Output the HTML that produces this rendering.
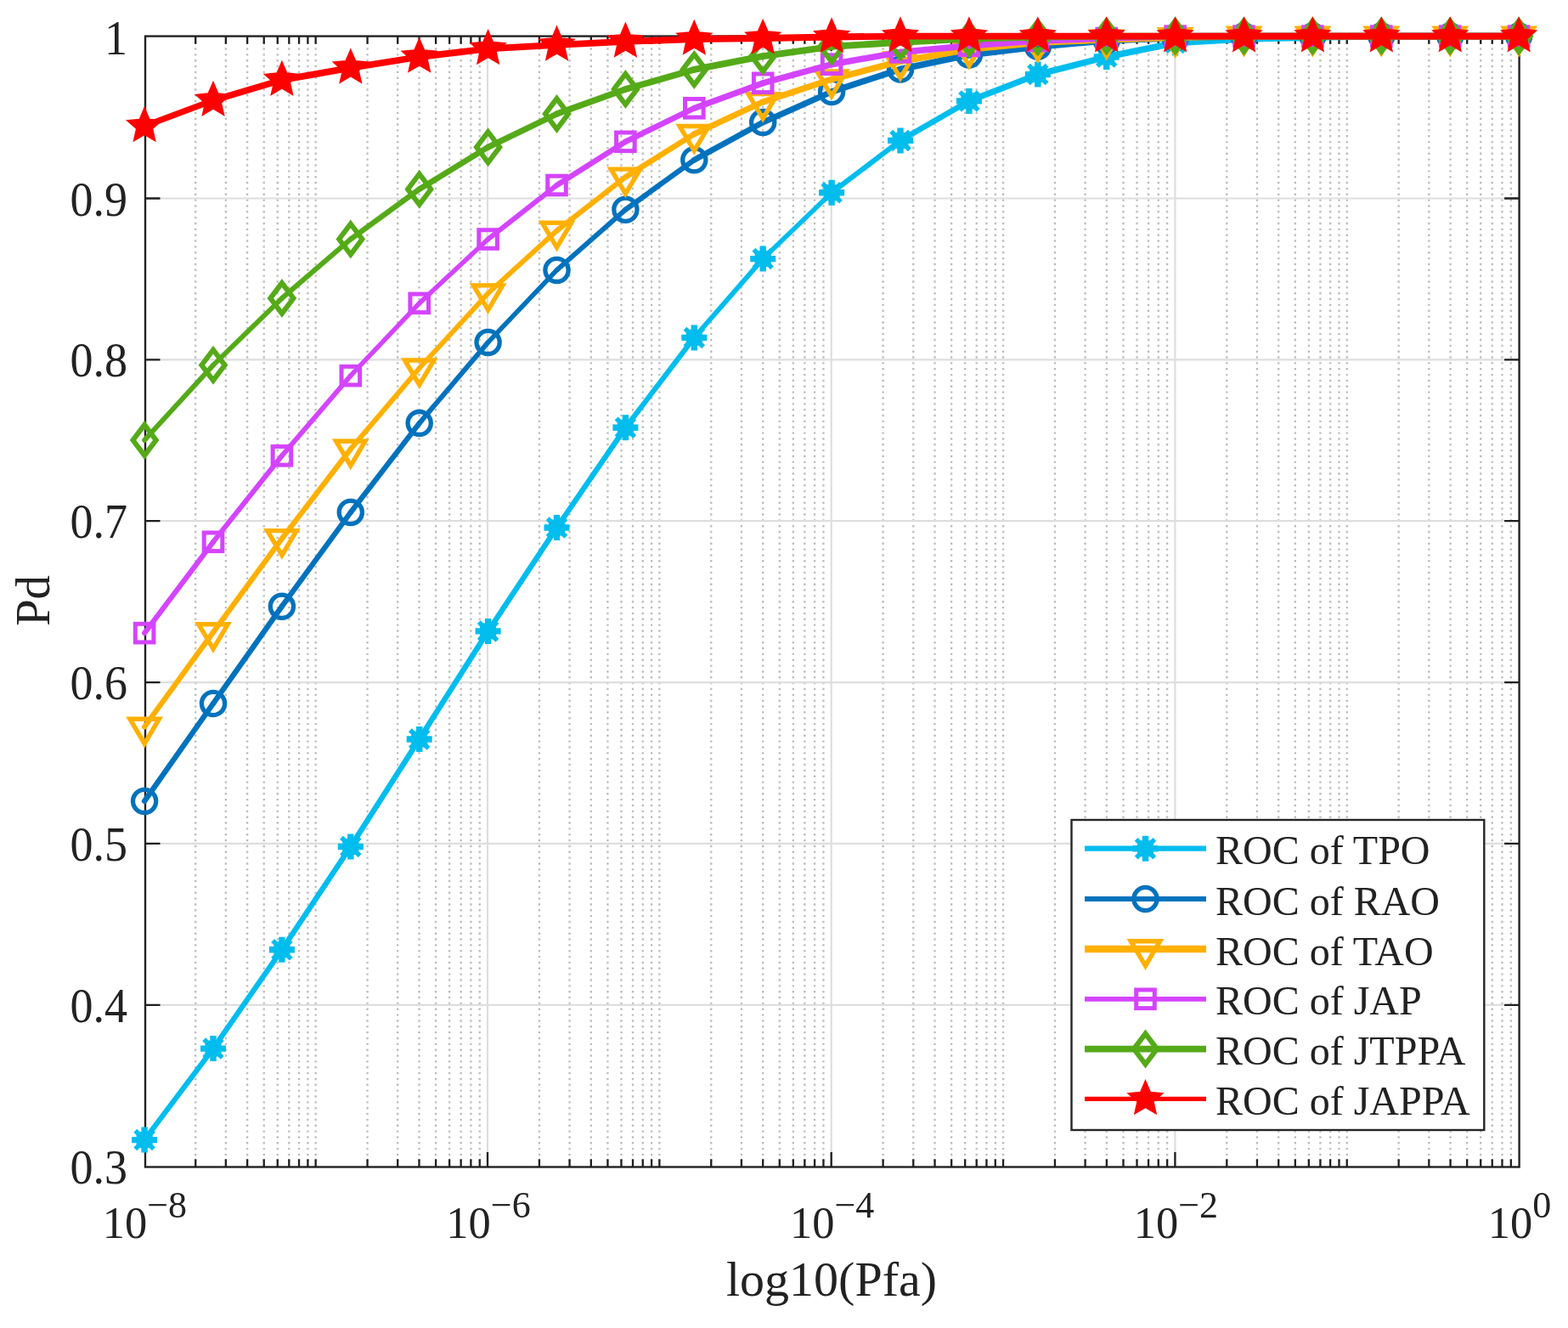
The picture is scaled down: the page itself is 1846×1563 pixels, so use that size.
<!DOCTYPE html>
<html><head><meta charset="utf-8"><title>ROC</title>
<style>
html,body{margin:0;padding:0;background:#fff;}
svg{display:block;}
text{font-family:"Liberation Serif","Times New Roman",serif;fill:#222;}
</style></head><body>
<svg width="1846" height="1563" viewBox="0 0 1846 1563">
<rect width="1846" height="1563" fill="#fff"/>
<g stroke="#bdbdbd" stroke-width="2.3" stroke-dasharray="2.4 4.45">
<line x1="230.21" y1="42.6" x2="230.21" y2="1373.5"/>
<line x1="265.85" y1="42.6" x2="265.85" y2="1373.5"/>
<line x1="291.13" y1="42.6" x2="291.13" y2="1373.5"/>
<line x1="310.74" y1="42.6" x2="310.74" y2="1373.5"/>
<line x1="326.76" y1="42.6" x2="326.76" y2="1373.5"/>
<line x1="340.31" y1="42.6" x2="340.31" y2="1373.5"/>
<line x1="352.04" y1="42.6" x2="352.04" y2="1373.5"/>
<line x1="362.39" y1="42.6" x2="362.39" y2="1373.5"/>
<line x1="432.56" y1="42.6" x2="432.56" y2="1373.5"/>
<line x1="468.2" y1="42.6" x2="468.2" y2="1373.5"/>
<line x1="493.48" y1="42.6" x2="493.48" y2="1373.5"/>
<line x1="513.09" y1="42.6" x2="513.09" y2="1373.5"/>
<line x1="529.11" y1="42.6" x2="529.11" y2="1373.5"/>
<line x1="542.66" y1="42.6" x2="542.66" y2="1373.5"/>
<line x1="554.39" y1="42.6" x2="554.39" y2="1373.5"/>
<line x1="564.74" y1="42.6" x2="564.74" y2="1373.5"/>
<line x1="634.91" y1="42.6" x2="634.91" y2="1373.5"/>
<line x1="670.55" y1="42.6" x2="670.55" y2="1373.5"/>
<line x1="695.83" y1="42.6" x2="695.83" y2="1373.5"/>
<line x1="715.44" y1="42.6" x2="715.44" y2="1373.5"/>
<line x1="731.46" y1="42.6" x2="731.46" y2="1373.5"/>
<line x1="745.01" y1="42.6" x2="745.01" y2="1373.5"/>
<line x1="756.74" y1="42.6" x2="756.74" y2="1373.5"/>
<line x1="767.09" y1="42.6" x2="767.09" y2="1373.5"/>
<line x1="837.26" y1="42.6" x2="837.26" y2="1373.5"/>
<line x1="872.9" y1="42.6" x2="872.9" y2="1373.5"/>
<line x1="898.18" y1="42.6" x2="898.18" y2="1373.5"/>
<line x1="917.79" y1="42.6" x2="917.79" y2="1373.5"/>
<line x1="933.81" y1="42.6" x2="933.81" y2="1373.5"/>
<line x1="947.36" y1="42.6" x2="947.36" y2="1373.5"/>
<line x1="959.09" y1="42.6" x2="959.09" y2="1373.5"/>
<line x1="969.44" y1="42.6" x2="969.44" y2="1373.5"/>
<line x1="1039.61" y1="42.6" x2="1039.61" y2="1373.5"/>
<line x1="1075.25" y1="42.6" x2="1075.25" y2="1373.5"/>
<line x1="1100.53" y1="42.6" x2="1100.53" y2="1373.5"/>
<line x1="1120.14" y1="42.6" x2="1120.14" y2="1373.5"/>
<line x1="1136.16" y1="42.6" x2="1136.16" y2="1373.5"/>
<line x1="1149.71" y1="42.6" x2="1149.71" y2="1373.5"/>
<line x1="1161.44" y1="42.6" x2="1161.44" y2="1373.5"/>
<line x1="1171.79" y1="42.6" x2="1171.79" y2="1373.5"/>
<line x1="1241.96" y1="42.6" x2="1241.96" y2="1373.5"/>
<line x1="1277.6" y1="42.6" x2="1277.6" y2="1373.5"/>
<line x1="1302.88" y1="42.6" x2="1302.88" y2="1373.5"/>
<line x1="1322.49" y1="42.6" x2="1322.49" y2="1373.5"/>
<line x1="1338.51" y1="42.6" x2="1338.51" y2="1373.5"/>
<line x1="1352.06" y1="42.6" x2="1352.06" y2="1373.5"/>
<line x1="1363.79" y1="42.6" x2="1363.79" y2="1373.5"/>
<line x1="1374.14" y1="42.6" x2="1374.14" y2="1373.5"/>
<line x1="1444.31" y1="42.6" x2="1444.31" y2="1373.5"/>
<line x1="1479.95" y1="42.6" x2="1479.95" y2="1373.5"/>
<line x1="1505.23" y1="42.6" x2="1505.23" y2="1373.5"/>
<line x1="1524.84" y1="42.6" x2="1524.84" y2="1373.5"/>
<line x1="1540.86" y1="42.6" x2="1540.86" y2="1373.5"/>
<line x1="1554.41" y1="42.6" x2="1554.41" y2="1373.5"/>
<line x1="1566.14" y1="42.6" x2="1566.14" y2="1373.5"/>
<line x1="1576.49" y1="42.6" x2="1576.49" y2="1373.5"/>
<line x1="1646.66" y1="42.6" x2="1646.66" y2="1373.5"/>
<line x1="1682.3" y1="42.6" x2="1682.3" y2="1373.5"/>
<line x1="1707.58" y1="42.6" x2="1707.58" y2="1373.5"/>
<line x1="1727.19" y1="42.6" x2="1727.19" y2="1373.5"/>
<line x1="1743.21" y1="42.6" x2="1743.21" y2="1373.5"/>
<line x1="1756.76" y1="42.6" x2="1756.76" y2="1373.5"/>
<line x1="1768.49" y1="42.6" x2="1768.49" y2="1373.5"/>
<line x1="1778.84" y1="42.6" x2="1778.84" y2="1373.5"/>
<line x1="371.65" y1="42.6" x2="371.65" y2="1373.5"/>
<line x1="776.35" y1="42.6" x2="776.35" y2="1373.5"/>
<line x1="1181.05" y1="42.6" x2="1181.05" y2="1373.5"/>
<line x1="1585.75" y1="42.6" x2="1585.75" y2="1373.5"/>
</g>
<g stroke="#dedede" stroke-width="2.2">
<line x1="574" y1="42.6" x2="574" y2="1373.5"/>
<line x1="978.7" y1="42.6" x2="978.7" y2="1373.5"/>
<line x1="1383.4" y1="42.6" x2="1383.4" y2="1373.5"/>
<line x1="171" y1="1182.8" x2="1788.6" y2="1182.8"/>
<line x1="171" y1="992.94" x2="1788.6" y2="992.94"/>
<line x1="171" y1="803.08" x2="1788.6" y2="803.08"/>
<line x1="171" y1="613.22" x2="1788.6" y2="613.22"/>
<line x1="171" y1="423.36" x2="1788.6" y2="423.36"/>
<line x1="171" y1="233.5" x2="1788.6" y2="233.5"/>
</g>
<path d="M230.21 1373.5v-9.2M230.21 42.6v9.2M265.85 1373.5v-9.2M265.85 42.6v9.2M291.13 1373.5v-9.2M291.13 42.6v9.2M310.74 1373.5v-9.2M310.74 42.6v9.2M326.76 1373.5v-9.2M326.76 42.6v9.2M340.31 1373.5v-9.2M340.31 42.6v9.2M352.04 1373.5v-9.2M352.04 42.6v9.2M362.39 1373.5v-9.2M362.39 42.6v9.2M432.56 1373.5v-9.2M432.56 42.6v9.2M468.2 1373.5v-9.2M468.2 42.6v9.2M493.48 1373.5v-9.2M493.48 42.6v9.2M513.09 1373.5v-9.2M513.09 42.6v9.2M529.11 1373.5v-9.2M529.11 42.6v9.2M542.66 1373.5v-9.2M542.66 42.6v9.2M554.39 1373.5v-9.2M554.39 42.6v9.2M564.74 1373.5v-9.2M564.74 42.6v9.2M634.91 1373.5v-9.2M634.91 42.6v9.2M670.55 1373.5v-9.2M670.55 42.6v9.2M695.83 1373.5v-9.2M695.83 42.6v9.2M715.44 1373.5v-9.2M715.44 42.6v9.2M731.46 1373.5v-9.2M731.46 42.6v9.2M745.01 1373.5v-9.2M745.01 42.6v9.2M756.74 1373.5v-9.2M756.74 42.6v9.2M767.09 1373.5v-9.2M767.09 42.6v9.2M837.26 1373.5v-9.2M837.26 42.6v9.2M872.9 1373.5v-9.2M872.9 42.6v9.2M898.18 1373.5v-9.2M898.18 42.6v9.2M917.79 1373.5v-9.2M917.79 42.6v9.2M933.81 1373.5v-9.2M933.81 42.6v9.2M947.36 1373.5v-9.2M947.36 42.6v9.2M959.09 1373.5v-9.2M959.09 42.6v9.2M969.44 1373.5v-9.2M969.44 42.6v9.2M1039.61 1373.5v-9.2M1039.61 42.6v9.2M1075.25 1373.5v-9.2M1075.25 42.6v9.2M1100.53 1373.5v-9.2M1100.53 42.6v9.2M1120.14 1373.5v-9.2M1120.14 42.6v9.2M1136.16 1373.5v-9.2M1136.16 42.6v9.2M1149.71 1373.5v-9.2M1149.71 42.6v9.2M1161.44 1373.5v-9.2M1161.44 42.6v9.2M1171.79 1373.5v-9.2M1171.79 42.6v9.2M1241.96 1373.5v-9.2M1241.96 42.6v9.2M1277.6 1373.5v-9.2M1277.6 42.6v9.2M1302.88 1373.5v-9.2M1302.88 42.6v9.2M1322.49 1373.5v-9.2M1322.49 42.6v9.2M1338.51 1373.5v-9.2M1338.51 42.6v9.2M1352.06 1373.5v-9.2M1352.06 42.6v9.2M1363.79 1373.5v-9.2M1363.79 42.6v9.2M1374.14 1373.5v-9.2M1374.14 42.6v9.2M1444.31 1373.5v-9.2M1444.31 42.6v9.2M1479.95 1373.5v-9.2M1479.95 42.6v9.2M1505.23 1373.5v-9.2M1505.23 42.6v9.2M1524.84 1373.5v-9.2M1524.84 42.6v9.2M1540.86 1373.5v-9.2M1540.86 42.6v9.2M1554.41 1373.5v-9.2M1554.41 42.6v9.2M1566.14 1373.5v-9.2M1566.14 42.6v9.2M1576.49 1373.5v-9.2M1576.49 42.6v9.2M1646.66 1373.5v-9.2M1646.66 42.6v9.2M1682.3 1373.5v-9.2M1682.3 42.6v9.2M1707.58 1373.5v-9.2M1707.58 42.6v9.2M1727.19 1373.5v-9.2M1727.19 42.6v9.2M1743.21 1373.5v-9.2M1743.21 42.6v9.2M1756.76 1373.5v-9.2M1756.76 42.6v9.2M1768.49 1373.5v-9.2M1768.49 42.6v9.2M1778.84 1373.5v-9.2M1778.84 42.6v9.2M371.65 1373.5v-9.2M371.65 42.6v9.2M776.35 1373.5v-9.2M776.35 42.6v9.2M1181.05 1373.5v-9.2M1181.05 42.6v9.2M1585.75 1373.5v-9.2M1585.75 42.6v9.2M574 1373.5v-17.5M574 42.6v17.5M978.7 1373.5v-17.5M978.7 42.6v17.5M1383.4 1373.5v-17.5M1383.4 42.6v17.5M171 1182.8h17.5M1788.6 1182.8h-17.5M171 992.94h17.5M1788.6 992.94h-17.5M171 803.08h17.5M1788.6 803.08h-17.5M171 613.22h17.5M1788.6 613.22h-17.5M171 423.36h17.5M1788.6 423.36h-17.5M171 233.5h17.5M1788.6 233.5h-17.5" stroke="#1f1f1f" stroke-width="2.3" fill="none"/>
<rect x="171" y="42.6" width="1617.6" height="1330.9" fill="none" stroke="#222" stroke-width="2.4"/>
<g stroke="#00BDEE" stroke-linecap="round">
<line x1="170.1" y1="1341.6" x2="251" y2="1234.1" stroke-width="6.15"/><line x1="251" y1="1234.1" x2="331.9" y2="1117.8" stroke-width="6.32"/><line x1="331.9" y1="1117.8" x2="412.8" y2="996.5" stroke-width="6.41"/><line x1="412.8" y1="996.5" x2="493.7" y2="870" stroke-width="6.49"/><line x1="493.7" y1="870" x2="574.6" y2="742.9" stroke-width="6.5"/><line x1="574.6" y1="742.9" x2="655.5" y2="621" stroke-width="6.42"/><line x1="655.5" y1="621" x2="736.4" y2="503.3" stroke-width="6.35"/><line x1="736.4" y1="503.3" x2="817.3" y2="397.4" stroke-width="6.12"/><line x1="817.3" y1="397.4" x2="898.2" y2="304.6" stroke-width="5.8"/><line x1="898.2" y1="304.6" x2="979.1" y2="226.8" stroke-width="5.55"/><line x1="979.1" y1="226.8" x2="1060" y2="165.4" stroke-width="6.13"/><line x1="1060" y1="165.4" x2="1140.9" y2="118.9" stroke-width="6.68"/><line x1="1140.9" y1="118.9" x2="1221.8" y2="87.6" stroke-width="7.18"/><line x1="1221.8" y1="87.6" x2="1302.7" y2="67" stroke-width="7.46"/><line x1="1302.7" y1="67" x2="1383.6" y2="50.5" stroke-width="7.54"/><line x1="1383.6" y1="50.5" x2="1464.5" y2="46" stroke-width="7.69"/><line x1="1464.5" y1="46" x2="1545.4" y2="44" stroke-width="7.7"/><line x1="1545.4" y1="44" x2="1626.3" y2="42.6" stroke-width="7.7"/><line x1="1626.3" y1="42.6" x2="1707.2" y2="42.6" stroke-width="7.7"/><line x1="1707.2" y1="42.6" x2="1788.1" y2="42.6" stroke-width="7.7"/>
</g>
<g>
<path d="M155.1 1341.6h30M170.1 1326.6v30" stroke="#00BDEE" stroke-width="7.4" fill="none"/><path d="M159.3 1330.8l21.6 21.6M159.3 1352.4l21.6 -21.6" stroke="#00BDEE" stroke-width="5.5" fill="none"/><rect x="160.6" y="1332.1" width="19" height="19" fill="#00BDEE"/>
<path d="M236 1234.1h30M251 1219.1v30" stroke="#00BDEE" stroke-width="7.4" fill="none"/><path d="M240.2 1223.3l21.6 21.6M240.2 1244.9l21.6 -21.6" stroke="#00BDEE" stroke-width="5.5" fill="none"/><rect x="241.5" y="1224.6" width="19" height="19" fill="#00BDEE"/>
<path d="M316.9 1117.8h30M331.9 1102.8v30" stroke="#00BDEE" stroke-width="7.4" fill="none"/><path d="M321.1 1107l21.6 21.6M321.1 1128.6l21.6 -21.6" stroke="#00BDEE" stroke-width="5.5" fill="none"/><rect x="322.4" y="1108.3" width="19" height="19" fill="#00BDEE"/>
<path d="M397.8 996.5h30M412.8 981.5v30" stroke="#00BDEE" stroke-width="7.4" fill="none"/><path d="M402 985.7l21.6 21.6M402 1007.3l21.6 -21.6" stroke="#00BDEE" stroke-width="5.5" fill="none"/><rect x="403.3" y="987" width="19" height="19" fill="#00BDEE"/>
<path d="M478.7 870h30M493.7 855v30" stroke="#00BDEE" stroke-width="7.4" fill="none"/><path d="M482.9 859.2l21.6 21.6M482.9 880.8l21.6 -21.6" stroke="#00BDEE" stroke-width="5.5" fill="none"/><rect x="484.2" y="860.5" width="19" height="19" fill="#00BDEE"/>
<path d="M559.6 742.9h30M574.6 727.9v30" stroke="#00BDEE" stroke-width="7.4" fill="none"/><path d="M563.8 732.1l21.6 21.6M563.8 753.7l21.6 -21.6" stroke="#00BDEE" stroke-width="5.5" fill="none"/><rect x="565.1" y="733.4" width="19" height="19" fill="#00BDEE"/>
<path d="M640.5 621h30M655.5 606v30" stroke="#00BDEE" stroke-width="7.4" fill="none"/><path d="M644.7 610.2l21.6 21.6M644.7 631.8l21.6 -21.6" stroke="#00BDEE" stroke-width="5.5" fill="none"/><rect x="646" y="611.5" width="19" height="19" fill="#00BDEE"/>
<path d="M721.4 503.3h30M736.4 488.3v30" stroke="#00BDEE" stroke-width="7.4" fill="none"/><path d="M725.6 492.5l21.6 21.6M725.6 514.1l21.6 -21.6" stroke="#00BDEE" stroke-width="5.5" fill="none"/><rect x="726.9" y="493.8" width="19" height="19" fill="#00BDEE"/>
<path d="M802.3 397.4h30M817.3 382.4v30" stroke="#00BDEE" stroke-width="7.4" fill="none"/><path d="M806.5 386.6l21.6 21.6M806.5 408.2l21.6 -21.6" stroke="#00BDEE" stroke-width="5.5" fill="none"/><rect x="807.8" y="387.9" width="19" height="19" fill="#00BDEE"/>
<path d="M883.2 304.6h30M898.2 289.6v30" stroke="#00BDEE" stroke-width="7.4" fill="none"/><path d="M887.4 293.8l21.6 21.6M887.4 315.4l21.6 -21.6" stroke="#00BDEE" stroke-width="5.5" fill="none"/><rect x="888.7" y="295.1" width="19" height="19" fill="#00BDEE"/>
<path d="M964.1 226.8h30M979.1 211.8v30" stroke="#00BDEE" stroke-width="7.4" fill="none"/><path d="M968.3 216l21.6 21.6M968.3 237.6l21.6 -21.6" stroke="#00BDEE" stroke-width="5.5" fill="none"/><rect x="969.6" y="217.3" width="19" height="19" fill="#00BDEE"/>
<path d="M1045 165.4h30M1060 150.4v30" stroke="#00BDEE" stroke-width="7.4" fill="none"/><path d="M1049.2 154.6l21.6 21.6M1049.2 176.2l21.6 -21.6" stroke="#00BDEE" stroke-width="5.5" fill="none"/><rect x="1050.5" y="155.9" width="19" height="19" fill="#00BDEE"/>
<path d="M1125.9 118.9h30M1140.9 103.9v30" stroke="#00BDEE" stroke-width="7.4" fill="none"/><path d="M1130.1 108.1l21.6 21.6M1130.1 129.7l21.6 -21.6" stroke="#00BDEE" stroke-width="5.5" fill="none"/><rect x="1131.4" y="109.4" width="19" height="19" fill="#00BDEE"/>
<path d="M1206.8 87.6h30M1221.8 72.6v30" stroke="#00BDEE" stroke-width="7.4" fill="none"/><path d="M1211 76.8l21.6 21.6M1211 98.4l21.6 -21.6" stroke="#00BDEE" stroke-width="5.5" fill="none"/><rect x="1212.3" y="78.1" width="19" height="19" fill="#00BDEE"/>
<path d="M1287.7 67h30M1302.7 52v30" stroke="#00BDEE" stroke-width="7.4" fill="none"/><path d="M1291.9 56.2l21.6 21.6M1291.9 77.8l21.6 -21.6" stroke="#00BDEE" stroke-width="5.5" fill="none"/><rect x="1293.2" y="57.5" width="19" height="19" fill="#00BDEE"/>
<path d="M1368.6 50.5h30M1383.6 35.5v30" stroke="#00BDEE" stroke-width="7.4" fill="none"/><path d="M1372.8 39.7l21.6 21.6M1372.8 61.3l21.6 -21.6" stroke="#00BDEE" stroke-width="5.5" fill="none"/><rect x="1374.1" y="41" width="19" height="19" fill="#00BDEE"/>
<path d="M1449.5 46h30M1464.5 31v30" stroke="#00BDEE" stroke-width="7.4" fill="none"/><path d="M1453.7 35.2l21.6 21.6M1453.7 56.8l21.6 -21.6" stroke="#00BDEE" stroke-width="5.5" fill="none"/><rect x="1455" y="36.5" width="19" height="19" fill="#00BDEE"/>
<path d="M1530.4 44h30M1545.4 29v30" stroke="#00BDEE" stroke-width="7.4" fill="none"/><path d="M1534.6 33.2l21.6 21.6M1534.6 54.8l21.6 -21.6" stroke="#00BDEE" stroke-width="5.5" fill="none"/><rect x="1535.9" y="34.5" width="19" height="19" fill="#00BDEE"/>
<path d="M1611.3 42.6h30M1626.3 27.6v30" stroke="#00BDEE" stroke-width="7.4" fill="none"/><path d="M1615.5 31.8l21.6 21.6M1615.5 53.4l21.6 -21.6" stroke="#00BDEE" stroke-width="5.5" fill="none"/><rect x="1616.8" y="33.1" width="19" height="19" fill="#00BDEE"/>
<path d="M1692.2 42.6h30M1707.2 27.6v30" stroke="#00BDEE" stroke-width="7.4" fill="none"/><path d="M1696.4 31.8l21.6 21.6M1696.4 53.4l21.6 -21.6" stroke="#00BDEE" stroke-width="5.5" fill="none"/><rect x="1697.7" y="33.1" width="19" height="19" fill="#00BDEE"/>
<path d="M1773.1 42.6h30M1788.1 27.6v30" stroke="#00BDEE" stroke-width="7.4" fill="none"/><path d="M1777.3 31.8l21.6 21.6M1777.3 53.4l21.6 -21.6" stroke="#00BDEE" stroke-width="5.5" fill="none"/><rect x="1778.6" y="33.1" width="19" height="19" fill="#00BDEE"/>
</g>
<g stroke="#0072BD" stroke-linecap="round">
<line x1="170.1" y1="942.9" x2="251" y2="828" stroke-width="6.38"/><line x1="251" y1="828" x2="331.9" y2="713.7" stroke-width="6.37"/><line x1="331.9" y1="713.7" x2="412.8" y2="603" stroke-width="6.3"/><line x1="412.8" y1="603" x2="493.7" y2="498.1" stroke-width="6.18"/><line x1="493.7" y1="498.1" x2="574.6" y2="402.9" stroke-width="5.94"/><line x1="574.6" y1="402.9" x2="655.5" y2="317.9" stroke-width="5.65"/><line x1="655.5" y1="317.9" x2="736.4" y2="246.7" stroke-width="5.86"/><line x1="736.4" y1="246.7" x2="817.3" y2="188.3" stroke-width="6.32"/><line x1="817.3" y1="188.3" x2="898.2" y2="143.9" stroke-width="6.84"/><line x1="898.2" y1="143.9" x2="979.1" y2="108" stroke-width="7.13"/><line x1="979.1" y1="108" x2="1060" y2="81.4" stroke-width="7.41"/><line x1="1060" y1="81.4" x2="1140.9" y2="64.6" stroke-width="7.64"/><line x1="1140.9" y1="64.6" x2="1221.8" y2="54.8" stroke-width="7.74"/><line x1="1221.8" y1="54.8" x2="1302.7" y2="47.6" stroke-width="7.77"/><line x1="1302.7" y1="47.6" x2="1383.6" y2="44.5" stroke-width="7.79"/><line x1="1383.6" y1="44.5" x2="1464.5" y2="42.6" stroke-width="7.8"/><line x1="1464.5" y1="42.6" x2="1545.4" y2="42.6" stroke-width="7.8"/><line x1="1545.4" y1="42.6" x2="1626.3" y2="42.6" stroke-width="7.8"/><line x1="1626.3" y1="42.6" x2="1707.2" y2="42.6" stroke-width="7.8"/><line x1="1707.2" y1="42.6" x2="1788.1" y2="42.6" stroke-width="7.8"/>
</g>
<g>
<circle cx="170.1" cy="942.9" r="13.6" stroke="#0072BD" stroke-width="5.3" fill="none"/>
<circle cx="251" cy="828" r="13.6" stroke="#0072BD" stroke-width="5.3" fill="none"/>
<circle cx="331.9" cy="713.7" r="13.6" stroke="#0072BD" stroke-width="5.3" fill="none"/>
<circle cx="412.8" cy="603" r="13.6" stroke="#0072BD" stroke-width="5.3" fill="none"/>
<circle cx="493.7" cy="498.1" r="13.6" stroke="#0072BD" stroke-width="5.3" fill="none"/>
<circle cx="574.6" cy="402.9" r="13.6" stroke="#0072BD" stroke-width="5.3" fill="none"/>
<circle cx="655.5" cy="317.9" r="13.6" stroke="#0072BD" stroke-width="5.3" fill="none"/>
<circle cx="736.4" cy="246.7" r="13.6" stroke="#0072BD" stroke-width="5.3" fill="none"/>
<circle cx="817.3" cy="188.3" r="13.6" stroke="#0072BD" stroke-width="5.3" fill="none"/>
<circle cx="898.2" cy="143.9" r="13.6" stroke="#0072BD" stroke-width="5.3" fill="none"/>
<circle cx="979.1" cy="108" r="13.6" stroke="#0072BD" stroke-width="5.3" fill="none"/>
<circle cx="1060" cy="81.4" r="13.6" stroke="#0072BD" stroke-width="5.3" fill="none"/>
<circle cx="1140.9" cy="64.6" r="13.6" stroke="#0072BD" stroke-width="5.3" fill="none"/>
<circle cx="1221.8" cy="54.8" r="13.6" stroke="#0072BD" stroke-width="5.3" fill="none"/>
<circle cx="1302.7" cy="47.6" r="13.6" stroke="#0072BD" stroke-width="5.3" fill="none"/>
<circle cx="1383.6" cy="44.5" r="13.6" stroke="#0072BD" stroke-width="5.3" fill="none"/>
<circle cx="1464.5" cy="42.6" r="13.6" stroke="#0072BD" stroke-width="5.3" fill="none"/>
<circle cx="1545.4" cy="42.6" r="13.6" stroke="#0072BD" stroke-width="5.3" fill="none"/>
<circle cx="1626.3" cy="42.6" r="13.6" stroke="#0072BD" stroke-width="5.3" fill="none"/>
<circle cx="1707.2" cy="42.6" r="13.6" stroke="#0072BD" stroke-width="5.3" fill="none"/>
<circle cx="1788.1" cy="42.6" r="13.6" stroke="#0072BD" stroke-width="5.3" fill="none"/>
</g>
<g stroke="#FFB000" stroke-linecap="round">
<line x1="170.1" y1="855.5" x2="251" y2="744.1" stroke-width="6.31"/><line x1="251" y1="744.1" x2="331.9" y2="633.9" stroke-width="6.29"/><line x1="331.9" y1="633.9" x2="412.8" y2="528.5" stroke-width="6.19"/><line x1="412.8" y1="528.5" x2="493.7" y2="433.3" stroke-width="5.94"/><line x1="493.7" y1="433.3" x2="574.6" y2="345.2" stroke-width="5.75"/><line x1="574.6" y1="345.2" x2="655.5" y2="271.5" stroke-width="5.77"/><line x1="655.5" y1="271.5" x2="736.4" y2="208.4" stroke-width="6.15"/><line x1="736.4" y1="208.4" x2="817.3" y2="157.8" stroke-width="6.61"/><line x1="817.3" y1="157.8" x2="898.2" y2="119.9" stroke-width="7.06"/><line x1="898.2" y1="119.9" x2="979.1" y2="93.3" stroke-width="7.41"/><line x1="979.1" y1="93.3" x2="1060" y2="72.2" stroke-width="7.55"/><line x1="1060" y1="72.2" x2="1140.9" y2="57.9" stroke-width="7.68"/><line x1="1140.9" y1="57.9" x2="1221.8" y2="50.1" stroke-width="7.76"/><line x1="1221.8" y1="50.1" x2="1302.7" y2="46.6" stroke-width="7.79"/><line x1="1302.7" y1="46.6" x2="1383.6" y2="44" stroke-width="7.8"/><line x1="1383.6" y1="44" x2="1464.5" y2="42.6" stroke-width="7.8"/><line x1="1464.5" y1="42.6" x2="1545.4" y2="42.6" stroke-width="7.8"/><line x1="1545.4" y1="42.6" x2="1626.3" y2="42.6" stroke-width="7.8"/><line x1="1626.3" y1="42.6" x2="1707.2" y2="42.6" stroke-width="7.8"/><line x1="1707.2" y1="42.6" x2="1788.1" y2="42.6" stroke-width="7.8"/>
</g>
<g>
<path d="M152.9 846.2L187.3 846.2L170.1 875.1Z" stroke="#FFB000" stroke-width="5.4" fill="none" stroke-linejoin="miter" stroke-miterlimit="10"/>
<path d="M233.8 734.8L268.2 734.8L251 763.7Z" stroke="#FFB000" stroke-width="5.4" fill="none" stroke-linejoin="miter" stroke-miterlimit="10"/>
<path d="M314.7 624.6L349.1 624.6L331.9 653.5Z" stroke="#FFB000" stroke-width="5.4" fill="none" stroke-linejoin="miter" stroke-miterlimit="10"/>
<path d="M395.6 519.2L430 519.2L412.8 548.1Z" stroke="#FFB000" stroke-width="5.4" fill="none" stroke-linejoin="miter" stroke-miterlimit="10"/>
<path d="M476.5 424L510.9 424L493.7 452.9Z" stroke="#FFB000" stroke-width="5.4" fill="none" stroke-linejoin="miter" stroke-miterlimit="10"/>
<path d="M557.4 335.9L591.8 335.9L574.6 364.8Z" stroke="#FFB000" stroke-width="5.4" fill="none" stroke-linejoin="miter" stroke-miterlimit="10"/>
<path d="M638.3 262.2L672.7 262.2L655.5 291.1Z" stroke="#FFB000" stroke-width="5.4" fill="none" stroke-linejoin="miter" stroke-miterlimit="10"/>
<path d="M719.2 199.1L753.6 199.1L736.4 228Z" stroke="#FFB000" stroke-width="5.4" fill="none" stroke-linejoin="miter" stroke-miterlimit="10"/>
<path d="M800.1 148.5L834.5 148.5L817.3 177.4Z" stroke="#FFB000" stroke-width="5.4" fill="none" stroke-linejoin="miter" stroke-miterlimit="10"/>
<path d="M881 110.6L915.4 110.6L898.2 139.5Z" stroke="#FFB000" stroke-width="5.4" fill="none" stroke-linejoin="miter" stroke-miterlimit="10"/>
<path d="M961.9 84L996.3 84L979.1 112.9Z" stroke="#FFB000" stroke-width="5.4" fill="none" stroke-linejoin="miter" stroke-miterlimit="10"/>
<path d="M1042.8 62.9L1077.2 62.9L1060 91.8Z" stroke="#FFB000" stroke-width="5.4" fill="none" stroke-linejoin="miter" stroke-miterlimit="10"/>
<path d="M1123.7 48.6L1158.1 48.6L1140.9 77.5Z" stroke="#FFB000" stroke-width="5.4" fill="none" stroke-linejoin="miter" stroke-miterlimit="10"/>
<path d="M1204.6 40.8L1239 40.8L1221.8 69.7Z" stroke="#FFB000" stroke-width="5.4" fill="none" stroke-linejoin="miter" stroke-miterlimit="10"/>
<path d="M1285.5 37.3L1319.9 37.3L1302.7 66.2Z" stroke="#FFB000" stroke-width="5.4" fill="none" stroke-linejoin="miter" stroke-miterlimit="10"/>
<path d="M1366.4 34.7L1400.8 34.7L1383.6 63.6Z" stroke="#FFB000" stroke-width="5.4" fill="none" stroke-linejoin="miter" stroke-miterlimit="10"/>
<path d="M1447.3 33.3L1481.7 33.3L1464.5 62.2Z" stroke="#FFB000" stroke-width="5.4" fill="none" stroke-linejoin="miter" stroke-miterlimit="10"/>
<path d="M1528.2 33.3L1562.6 33.3L1545.4 62.2Z" stroke="#FFB000" stroke-width="5.4" fill="none" stroke-linejoin="miter" stroke-miterlimit="10"/>
<path d="M1609.1 33.3L1643.5 33.3L1626.3 62.2Z" stroke="#FFB000" stroke-width="5.4" fill="none" stroke-linejoin="miter" stroke-miterlimit="10"/>
<path d="M1690 33.3L1724.4 33.3L1707.2 62.2Z" stroke="#FFB000" stroke-width="5.4" fill="none" stroke-linejoin="miter" stroke-miterlimit="10"/>
<path d="M1770.9 33.3L1805.3 33.3L1788.1 62.2Z" stroke="#FFB000" stroke-width="5.4" fill="none" stroke-linejoin="miter" stroke-miterlimit="10"/>
</g>
<g stroke="#D444FF" stroke-linecap="round">
<line x1="170.1" y1="745.1" x2="251" y2="637.8" stroke-width="6.07"/><line x1="251" y1="637.8" x2="331.9" y2="536.4" stroke-width="5.94"/><line x1="331.9" y1="536.4" x2="412.8" y2="442.2" stroke-width="5.77"/><line x1="412.8" y1="442.2" x2="493.7" y2="356.9" stroke-width="5.51"/><line x1="493.7" y1="356.9" x2="574.6" y2="281.5" stroke-width="5.56"/><line x1="574.6" y1="281.5" x2="655.5" y2="218" stroke-width="5.98"/><line x1="655.5" y1="218" x2="736.4" y2="166.8" stroke-width="6.42"/><line x1="736.4" y1="166.8" x2="817.3" y2="127.3" stroke-width="6.83"/><line x1="817.3" y1="127.3" x2="898.2" y2="97.8" stroke-width="7.14"/><line x1="898.2" y1="97.8" x2="979.1" y2="75.7" stroke-width="7.33"/><line x1="979.1" y1="75.7" x2="1060" y2="61.4" stroke-width="7.48"/><line x1="1060" y1="61.4" x2="1140.9" y2="53.8" stroke-width="7.57"/><line x1="1140.9" y1="53.8" x2="1221.8" y2="48" stroke-width="7.58"/><line x1="1221.8" y1="48" x2="1302.7" y2="45" stroke-width="7.59"/><line x1="1302.7" y1="45" x2="1383.6" y2="42.6" stroke-width="7.6"/><line x1="1383.6" y1="42.6" x2="1464.5" y2="42.6" stroke-width="7.6"/><line x1="1464.5" y1="42.6" x2="1545.4" y2="42.6" stroke-width="7.6"/><line x1="1545.4" y1="42.6" x2="1626.3" y2="42.6" stroke-width="7.6"/><line x1="1626.3" y1="42.6" x2="1707.2" y2="42.6" stroke-width="7.6"/><line x1="1707.2" y1="42.6" x2="1788.1" y2="42.6" stroke-width="7.6"/>
</g>
<g>
<rect x="159.3" y="734.3" width="21.6" height="21.6" stroke="#D444FF" stroke-width="5" fill="none"/>
<rect x="240.2" y="627" width="21.6" height="21.6" stroke="#D444FF" stroke-width="5" fill="none"/>
<rect x="321.1" y="525.6" width="21.6" height="21.6" stroke="#D444FF" stroke-width="5" fill="none"/>
<rect x="402" y="431.4" width="21.6" height="21.6" stroke="#D444FF" stroke-width="5" fill="none"/>
<rect x="482.9" y="346.1" width="21.6" height="21.6" stroke="#D444FF" stroke-width="5" fill="none"/>
<rect x="563.8" y="270.7" width="21.6" height="21.6" stroke="#D444FF" stroke-width="5" fill="none"/>
<rect x="644.7" y="207.2" width="21.6" height="21.6" stroke="#D444FF" stroke-width="5" fill="none"/>
<rect x="725.6" y="156" width="21.6" height="21.6" stroke="#D444FF" stroke-width="5" fill="none"/>
<rect x="806.5" y="116.5" width="21.6" height="21.6" stroke="#D444FF" stroke-width="5" fill="none"/>
<rect x="887.4" y="87" width="21.6" height="21.6" stroke="#D444FF" stroke-width="5" fill="none"/>
<rect x="968.3" y="64.9" width="21.6" height="21.6" stroke="#D444FF" stroke-width="5" fill="none"/>
<rect x="1049.2" y="50.6" width="21.6" height="21.6" stroke="#D444FF" stroke-width="5" fill="none"/>
<rect x="1130.1" y="43" width="21.6" height="21.6" stroke="#D444FF" stroke-width="5" fill="none"/>
<rect x="1211" y="37.2" width="21.6" height="21.6" stroke="#D444FF" stroke-width="5" fill="none"/>
<rect x="1291.9" y="34.2" width="21.6" height="21.6" stroke="#D444FF" stroke-width="5" fill="none"/>
<rect x="1372.8" y="31.8" width="21.6" height="21.6" stroke="#D444FF" stroke-width="5" fill="none"/>
<rect x="1453.7" y="31.8" width="21.6" height="21.6" stroke="#D444FF" stroke-width="5" fill="none"/>
<rect x="1534.6" y="31.8" width="21.6" height="21.6" stroke="#D444FF" stroke-width="5" fill="none"/>
<rect x="1615.5" y="31.8" width="21.6" height="21.6" stroke="#D444FF" stroke-width="5" fill="none"/>
<rect x="1696.4" y="31.8" width="21.6" height="21.6" stroke="#D444FF" stroke-width="5" fill="none"/>
<rect x="1777.3" y="31.8" width="21.6" height="21.6" stroke="#D444FF" stroke-width="5" fill="none"/>
</g>
<g stroke="#55AA18" stroke-linecap="round">
<line x1="170.1" y1="518" x2="251" y2="429.7" stroke-width="5.82"/><line x1="251" y1="429.7" x2="331.9" y2="351.1" stroke-width="5.67"/><line x1="331.9" y1="351.1" x2="412.8" y2="281.5" stroke-width="5.99"/><line x1="412.8" y1="281.5" x2="493.7" y2="222.7" stroke-width="6.39"/><line x1="493.7" y1="222.7" x2="574.6" y2="173.2" stroke-width="6.74"/><line x1="574.6" y1="173.2" x2="655.5" y2="134.1" stroke-width="7.11"/><line x1="655.5" y1="134.1" x2="736.4" y2="105" stroke-width="7.43"/><line x1="736.4" y1="105" x2="817.3" y2="81.9" stroke-width="7.6"/><line x1="817.3" y1="81.9" x2="898.2" y2="66.1" stroke-width="7.75"/><line x1="898.2" y1="66.1" x2="979.1" y2="54.8" stroke-width="7.82"/><line x1="979.1" y1="54.8" x2="1060" y2="49.7" stroke-width="7.88"/><line x1="1060" y1="49.7" x2="1140.9" y2="45.6" stroke-width="7.89"/><line x1="1140.9" y1="45.6" x2="1221.8" y2="43.6" stroke-width="7.9"/><line x1="1221.8" y1="43.6" x2="1302.7" y2="42.6" stroke-width="7.9"/><line x1="1302.7" y1="42.6" x2="1383.6" y2="42.6" stroke-width="7.9"/><line x1="1383.6" y1="42.6" x2="1464.5" y2="42.6" stroke-width="7.9"/><line x1="1464.5" y1="42.6" x2="1545.4" y2="42.6" stroke-width="7.9"/><line x1="1545.4" y1="42.6" x2="1626.3" y2="42.6" stroke-width="7.9"/><line x1="1626.3" y1="42.6" x2="1707.2" y2="42.6" stroke-width="7.9"/><line x1="1707.2" y1="42.6" x2="1788.1" y2="42.6" stroke-width="7.9"/>
</g>
<g>
<path d="M170.1 500L183.7 518L170.1 536L156.5 518Z" stroke="#55AA18" stroke-width="6.0" fill="none" stroke-miterlimit="10"/>
<path d="M251 411.7L264.6 429.7L251 447.7L237.4 429.7Z" stroke="#55AA18" stroke-width="6.0" fill="none" stroke-miterlimit="10"/>
<path d="M331.9 333.1L345.5 351.1L331.9 369.1L318.3 351.1Z" stroke="#55AA18" stroke-width="6.0" fill="none" stroke-miterlimit="10"/>
<path d="M412.8 263.5L426.4 281.5L412.8 299.5L399.2 281.5Z" stroke="#55AA18" stroke-width="6.0" fill="none" stroke-miterlimit="10"/>
<path d="M493.7 204.7L507.3 222.7L493.7 240.7L480.1 222.7Z" stroke="#55AA18" stroke-width="6.0" fill="none" stroke-miterlimit="10"/>
<path d="M574.6 155.2L588.2 173.2L574.6 191.2L561 173.2Z" stroke="#55AA18" stroke-width="6.0" fill="none" stroke-miterlimit="10"/>
<path d="M655.5 116.1L669.1 134.1L655.5 152.1L641.9 134.1Z" stroke="#55AA18" stroke-width="6.0" fill="none" stroke-miterlimit="10"/>
<path d="M736.4 87L750 105L736.4 123L722.8 105Z" stroke="#55AA18" stroke-width="6.0" fill="none" stroke-miterlimit="10"/>
<path d="M817.3 63.9L830.9 81.9L817.3 99.9L803.7 81.9Z" stroke="#55AA18" stroke-width="6.0" fill="none" stroke-miterlimit="10"/>
<path d="M898.2 48.1L911.8 66.1L898.2 84.1L884.6 66.1Z" stroke="#55AA18" stroke-width="6.0" fill="none" stroke-miterlimit="10"/>
<path d="M979.1 36.8L992.7 54.8L979.1 72.8L965.5 54.8Z" stroke="#55AA18" stroke-width="6.0" fill="none" stroke-miterlimit="10"/>
<path d="M1060 31.7L1073.6 49.7L1060 67.7L1046.4 49.7Z" stroke="#55AA18" stroke-width="6.0" fill="none" stroke-miterlimit="10"/>
<path d="M1140.9 27.6L1154.5 45.6L1140.9 63.6L1127.3 45.6Z" stroke="#55AA18" stroke-width="6.0" fill="none" stroke-miterlimit="10"/>
<path d="M1221.8 25.6L1235.4 43.6L1221.8 61.6L1208.2 43.6Z" stroke="#55AA18" stroke-width="6.0" fill="none" stroke-miterlimit="10"/>
<path d="M1302.7 24.6L1316.3 42.6L1302.7 60.6L1289.1 42.6Z" stroke="#55AA18" stroke-width="6.0" fill="none" stroke-miterlimit="10"/>
<path d="M1383.6 24.6L1397.2 42.6L1383.6 60.6L1370 42.6Z" stroke="#55AA18" stroke-width="6.0" fill="none" stroke-miterlimit="10"/>
<path d="M1464.5 24.6L1478.1 42.6L1464.5 60.6L1450.9 42.6Z" stroke="#55AA18" stroke-width="6.0" fill="none" stroke-miterlimit="10"/>
<path d="M1545.4 24.6L1559 42.6L1545.4 60.6L1531.8 42.6Z" stroke="#55AA18" stroke-width="6.0" fill="none" stroke-miterlimit="10"/>
<path d="M1626.3 24.6L1639.9 42.6L1626.3 60.6L1612.7 42.6Z" stroke="#55AA18" stroke-width="6.0" fill="none" stroke-miterlimit="10"/>
<path d="M1707.2 24.6L1720.8 42.6L1707.2 60.6L1693.6 42.6Z" stroke="#55AA18" stroke-width="6.0" fill="none" stroke-miterlimit="10"/>
<path d="M1788.1 24.6L1801.7 42.6L1788.1 60.6L1774.5 42.6Z" stroke="#55AA18" stroke-width="6.0" fill="none" stroke-miterlimit="10"/>
</g>
<g stroke="#FF0000" stroke-linecap="round">
<line x1="170.1" y1="148.4" x2="251" y2="118.1" stroke-width="7.4"/><line x1="251" y1="118.1" x2="331.9" y2="94.1" stroke-width="7.57"/><line x1="331.9" y1="94.1" x2="412.8" y2="79.8" stroke-width="7.78"/><line x1="412.8" y1="79.8" x2="493.7" y2="67" stroke-width="7.8"/><line x1="493.7" y1="67" x2="574.6" y2="57.4" stroke-width="7.84"/><line x1="574.6" y1="57.4" x2="655.5" y2="52.9" stroke-width="7.89"/><line x1="655.5" y1="52.9" x2="736.4" y2="48.9" stroke-width="7.89"/><line x1="736.4" y1="48.9" x2="817.3" y2="46" stroke-width="7.89"/><line x1="817.3" y1="46" x2="898.2" y2="45" stroke-width="7.9"/><line x1="898.2" y1="45" x2="979.1" y2="43.5" stroke-width="7.9"/><line x1="979.1" y1="43.5" x2="1060" y2="42.6" stroke-width="7.9"/><line x1="1060" y1="42.6" x2="1140.9" y2="42.6" stroke-width="7.9"/><line x1="1140.9" y1="42.6" x2="1221.8" y2="42.6" stroke-width="7.9"/><line x1="1221.8" y1="42.6" x2="1302.7" y2="42.6" stroke-width="7.9"/><line x1="1302.7" y1="42.6" x2="1383.6" y2="42.6" stroke-width="7.9"/><line x1="1383.6" y1="42.6" x2="1464.5" y2="42.6" stroke-width="7.9"/><line x1="1464.5" y1="42.6" x2="1545.4" y2="42.6" stroke-width="7.9"/><line x1="1545.4" y1="42.6" x2="1626.3" y2="42.6" stroke-width="7.9"/><line x1="1626.3" y1="42.6" x2="1707.2" y2="42.6" stroke-width="7.9"/><line x1="1707.2" y1="42.6" x2="1788.1" y2="42.6" stroke-width="7.9"/>
</g>
<g>
<polygon points="170.1,127.1 175.86,140.47 190.36,141.82 179.42,151.43 182.62,165.63 170.1,158.2 157.58,165.63 160.78,151.43 149.84,141.82 164.34,140.47" fill="#FF0000" stroke="#FF0000" stroke-width="1.6" stroke-linejoin="miter" stroke-miterlimit="10"/>
<polygon points="251,96.8 256.76,110.17 271.26,111.52 260.32,121.13 263.52,135.33 251,127.9 238.48,135.33 241.68,121.13 230.74,111.52 245.24,110.17" fill="#FF0000" stroke="#FF0000" stroke-width="1.6" stroke-linejoin="miter" stroke-miterlimit="10"/>
<polygon points="331.9,72.8 337.66,86.17 352.16,87.52 341.22,97.13 344.42,111.33 331.9,103.9 319.38,111.33 322.58,97.13 311.64,87.52 326.14,86.17" fill="#FF0000" stroke="#FF0000" stroke-width="1.6" stroke-linejoin="miter" stroke-miterlimit="10"/>
<polygon points="412.8,58.5 418.56,71.87 433.06,73.22 422.12,82.83 425.32,97.03 412.8,89.6 400.28,97.03 403.48,82.83 392.54,73.22 407.04,71.87" fill="#FF0000" stroke="#FF0000" stroke-width="1.6" stroke-linejoin="miter" stroke-miterlimit="10"/>
<polygon points="493.7,45.7 499.46,59.07 513.96,60.42 503.02,70.03 506.22,84.23 493.7,76.8 481.18,84.23 484.38,70.03 473.44,60.42 487.94,59.07" fill="#FF0000" stroke="#FF0000" stroke-width="1.6" stroke-linejoin="miter" stroke-miterlimit="10"/>
<polygon points="574.6,36.1 580.36,49.47 594.86,50.82 583.92,60.43 587.12,74.63 574.6,67.2 562.08,74.63 565.28,60.43 554.34,50.82 568.84,49.47" fill="#FF0000" stroke="#FF0000" stroke-width="1.6" stroke-linejoin="miter" stroke-miterlimit="10"/>
<polygon points="655.5,31.6 661.26,44.97 675.76,46.32 664.82,55.93 668.02,70.13 655.5,62.7 642.98,70.13 646.18,55.93 635.24,46.32 649.74,44.97" fill="#FF0000" stroke="#FF0000" stroke-width="1.6" stroke-linejoin="miter" stroke-miterlimit="10"/>
<polygon points="736.4,27.6 742.16,40.97 756.66,42.32 745.72,51.93 748.92,66.13 736.4,58.7 723.88,66.13 727.08,51.93 716.14,42.32 730.64,40.97" fill="#FF0000" stroke="#FF0000" stroke-width="1.6" stroke-linejoin="miter" stroke-miterlimit="10"/>
<polygon points="817.3,24.7 823.06,38.07 837.56,39.42 826.62,49.03 829.82,63.23 817.3,55.8 804.78,63.23 807.98,49.03 797.04,39.42 811.54,38.07" fill="#FF0000" stroke="#FF0000" stroke-width="1.6" stroke-linejoin="miter" stroke-miterlimit="10"/>
<polygon points="898.2,23.7 903.96,37.07 918.46,38.42 907.52,48.03 910.72,62.23 898.2,54.8 885.68,62.23 888.88,48.03 877.94,38.42 892.44,37.07" fill="#FF0000" stroke="#FF0000" stroke-width="1.6" stroke-linejoin="miter" stroke-miterlimit="10"/>
<polygon points="979.1,22.2 984.86,35.57 999.36,36.92 988.42,46.53 991.62,60.73 979.1,53.3 966.58,60.73 969.78,46.53 958.84,36.92 973.34,35.57" fill="#FF0000" stroke="#FF0000" stroke-width="1.6" stroke-linejoin="miter" stroke-miterlimit="10"/>
<polygon points="1060,21.3 1065.76,34.67 1080.26,36.02 1069.32,45.63 1072.52,59.83 1060,52.4 1047.48,59.83 1050.68,45.63 1039.74,36.02 1054.24,34.67" fill="#FF0000" stroke="#FF0000" stroke-width="1.6" stroke-linejoin="miter" stroke-miterlimit="10"/>
<polygon points="1140.9,21.3 1146.66,34.67 1161.16,36.02 1150.22,45.63 1153.42,59.83 1140.9,52.4 1128.38,59.83 1131.58,45.63 1120.64,36.02 1135.14,34.67" fill="#FF0000" stroke="#FF0000" stroke-width="1.6" stroke-linejoin="miter" stroke-miterlimit="10"/>
<polygon points="1221.8,21.3 1227.56,34.67 1242.06,36.02 1231.12,45.63 1234.32,59.83 1221.8,52.4 1209.28,59.83 1212.48,45.63 1201.54,36.02 1216.04,34.67" fill="#FF0000" stroke="#FF0000" stroke-width="1.6" stroke-linejoin="miter" stroke-miterlimit="10"/>
<polygon points="1302.7,21.3 1308.46,34.67 1322.96,36.02 1312.02,45.63 1315.22,59.83 1302.7,52.4 1290.18,59.83 1293.38,45.63 1282.44,36.02 1296.94,34.67" fill="#FF0000" stroke="#FF0000" stroke-width="1.6" stroke-linejoin="miter" stroke-miterlimit="10"/>
<polygon points="1383.6,21.3 1389.36,34.67 1403.86,36.02 1392.92,45.63 1396.12,59.83 1383.6,52.4 1371.08,59.83 1374.28,45.63 1363.34,36.02 1377.84,34.67" fill="#FF0000" stroke="#FF0000" stroke-width="1.6" stroke-linejoin="miter" stroke-miterlimit="10"/>
<polygon points="1464.5,21.3 1470.26,34.67 1484.76,36.02 1473.82,45.63 1477.02,59.83 1464.5,52.4 1451.98,59.83 1455.18,45.63 1444.24,36.02 1458.74,34.67" fill="#FF0000" stroke="#FF0000" stroke-width="1.6" stroke-linejoin="miter" stroke-miterlimit="10"/>
<polygon points="1545.4,21.3 1551.16,34.67 1565.66,36.02 1554.72,45.63 1557.92,59.83 1545.4,52.4 1532.88,59.83 1536.08,45.63 1525.14,36.02 1539.64,34.67" fill="#FF0000" stroke="#FF0000" stroke-width="1.6" stroke-linejoin="miter" stroke-miterlimit="10"/>
<polygon points="1626.3,21.3 1632.06,34.67 1646.56,36.02 1635.62,45.63 1638.82,59.83 1626.3,52.4 1613.78,59.83 1616.98,45.63 1606.04,36.02 1620.54,34.67" fill="#FF0000" stroke="#FF0000" stroke-width="1.6" stroke-linejoin="miter" stroke-miterlimit="10"/>
<polygon points="1707.2,21.3 1712.96,34.67 1727.46,36.02 1716.52,45.63 1719.72,59.83 1707.2,52.4 1694.68,59.83 1697.88,45.63 1686.94,36.02 1701.44,34.67" fill="#FF0000" stroke="#FF0000" stroke-width="1.6" stroke-linejoin="miter" stroke-miterlimit="10"/>
<polygon points="1788.1,21.3 1793.86,34.67 1808.36,36.02 1797.42,45.63 1800.62,59.83 1788.1,52.4 1775.58,59.83 1778.78,45.63 1767.84,36.02 1782.34,34.67" fill="#FF0000" stroke="#FF0000" stroke-width="1.6" stroke-linejoin="miter" stroke-miterlimit="10"/>
</g>
<text transform="translate(150 1373.86) scale(0.965 1)" font-size="56" text-anchor="end" dominant-baseline="central">0.3</text>
<text transform="translate(150 1184) scale(0.965 1)" font-size="56" text-anchor="end" dominant-baseline="central">0.4</text>
<text transform="translate(150 994.14) scale(0.965 1)" font-size="56" text-anchor="end" dominant-baseline="central">0.5</text>
<text transform="translate(150 804.28) scale(0.965 1)" font-size="56" text-anchor="end" dominant-baseline="central">0.6</text>
<text transform="translate(150 614.42) scale(0.965 1)" font-size="56" text-anchor="end" dominant-baseline="central">0.7</text>
<text transform="translate(150 424.56) scale(0.965 1)" font-size="56" text-anchor="end" dominant-baseline="central">0.8</text>
<text transform="translate(150 234.7) scale(0.965 1)" font-size="56" text-anchor="end" dominant-baseline="central">0.9</text>
<text transform="translate(150 44.84) scale(0.965 1)" font-size="56" text-anchor="end" dominant-baseline="central">1</text>
<text x="170.3" y="1457" font-size="52.5" text-anchor="middle">10<tspan dy="-24" font-size="44">&#8722;8</tspan></text>
<text x="575" y="1457" font-size="52.5" text-anchor="middle">10<tspan dy="-24" font-size="44">&#8722;6</tspan></text>
<text x="979.7" y="1457" font-size="52.5" text-anchor="middle">10<tspan dy="-24" font-size="44">&#8722;4</tspan></text>
<text x="1384.4" y="1457" font-size="52.5" text-anchor="middle">10<tspan dy="-24" font-size="44">&#8722;2</tspan></text>
<text x="1789.1" y="1457" font-size="52.5" text-anchor="middle">10<tspan dy="-24" font-size="44">0</tspan></text>
<text x="979" y="1525" font-size="58" text-anchor="middle">log10(Pfa)</text>
<text transform="translate(57.5 707) rotate(-90)" x="0" y="0" font-size="57" text-anchor="middle">Pd</text>
<rect x="1261.5" y="965" width="485.8" height="365" fill="#fff" stroke="#262626" stroke-width="2.4"/>
<line x1="1277" y1="998.7" x2="1420" y2="998.7" stroke="#00BDEE" stroke-width="6.2"/>
<path d="M1333.5 998.7h30M1348.5 983.7v30" stroke="#00BDEE" stroke-width="7.4" fill="none"/><path d="M1337.7 987.9l21.6 21.6M1337.7 1009.5l21.6 -21.6" stroke="#00BDEE" stroke-width="5.5" fill="none"/><rect x="1339" y="989.2" width="19" height="19" fill="#00BDEE"/>
<text x="1431" y="1017.2" font-size="48">ROC of TPO</text>
<line x1="1277" y1="1058" x2="1420" y2="1058" stroke="#0072BD" stroke-width="6"/>
<circle cx="1348.5" cy="1058" r="13.6" stroke="#0072BD" stroke-width="5.3" fill="none"/>
<text x="1431" y="1076.5" font-size="48">ROC of RAO</text>
<line x1="1277" y1="1117" x2="1420" y2="1117" stroke="#FFB000" stroke-width="8.6"/>
<path d="M1331.3 1107.7L1365.7 1107.7L1348.5 1136.6Z" stroke="#FFB000" stroke-width="5.4" fill="none" stroke-linejoin="miter" stroke-miterlimit="10"/>
<text x="1431" y="1135.5" font-size="48">ROC of TAO</text>
<line x1="1277" y1="1175.8" x2="1420" y2="1175.8" stroke="#D444FF" stroke-width="5.8"/>
<rect x="1337.7" y="1165" width="21.6" height="21.6" stroke="#D444FF" stroke-width="5" fill="none"/>
<text x="1431" y="1194.3" font-size="48">ROC of JAP</text>
<line x1="1277" y1="1234.6" x2="1420" y2="1234.6" stroke="#55AA18" stroke-width="7.7"/>
<path d="M1348.5 1216.6L1362.1 1234.6L1348.5 1252.6L1334.9 1234.6Z" stroke="#55AA18" stroke-width="6.0" fill="none" stroke-miterlimit="10"/>
<text x="1431" y="1253.1" font-size="48">ROC of JTPPA</text>
<line x1="1277" y1="1293.4" x2="1420" y2="1293.4" stroke="#FF0000" stroke-width="5.2"/>
<polygon points="1348.5,1272.1 1354.26,1285.47 1368.76,1286.82 1357.82,1296.43 1361.02,1310.63 1348.5,1303.2 1335.98,1310.63 1339.18,1296.43 1328.24,1286.82 1342.74,1285.47" fill="#FF0000" stroke="#FF0000" stroke-width="1.6" stroke-linejoin="miter" stroke-miterlimit="10"/>
<text x="1431" y="1311.9" font-size="48">ROC of JAPPA</text>
</svg>
</body></html>
